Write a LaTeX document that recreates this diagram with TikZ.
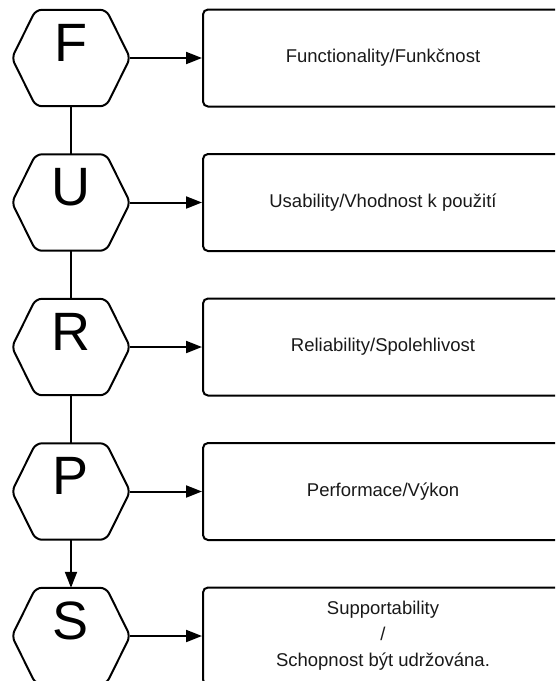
\documentclass[tikz,border=0pt]{standalone}
\usepackage{fontspec}
\setmainfont{Liberation Sans}
\usetikzlibrary{arrows.meta,calc}

% outline of a flattened hexagon around a rectangular node
\newcommand\hexoutline[1]{%
  \draw[hexline] (#1.west) -- ($(#1.north west)+(24,0)$) -- ($(#1.north east)+(-24,0)$)
    -- (#1.east) -- ($(#1.south east)+(-24,0)$) -- ($(#1.south west)+(24,0)$) -- cycle;}

\begin{document}
\begin{tikzpicture}[x=1pt,y=-1pt,
  hexnode/.style={rectangle, minimum width=118pt, minimum height=96pt, inner sep=0pt,
    text height=40pt, text depth=34pt, font=\fontsize{54}{54}\selectfont},
  hexline/.style={line width=2pt, rounded corners=6pt, line join=round},
  descbox/.style={draw, line width=2pt, rounded corners=5pt, minimum width=360pt,
    minimum height=97pt, align=center, inner sep=0pt,
    font=\fontsize{18.5}{26}\selectfont, text=black!90},
  link/.style={line width=2pt},
  flow/.style={link, -{Triangle[length=16pt,width=12pt]}}
]
\useasboundingbox (0,0) rectangle (555,681);
\clip (0,0) rectangle (555,681);

% letter hexagons
\node[hexnode] (F) at (71,58)  {F};
\node[hexnode] (U) at (71,202.5) {U};
\node[hexnode] (R) at (71,347) {R};
\node[hexnode] (P) at (71,491.5) {P};
\node[hexnode] (S) at (71,636) {S};
\foreach \h in {F,U,R,P,S} { \hexoutline{\h} }

% description boxes
\node[descbox] (Fd) at (383,58)  {Functionality/Funkčnost};
\node[descbox] (Ud) at (383,202.5) {Usability/Vhodnost k použití};
\node[descbox] (Rd) at (383,347) {Reliability/Spolehlivost};
\node[descbox] (Pd) at (383,491.5) {Performace/Výkon};
\node[descbox] (Sd) at (383,636) {Supportability\\/\\Schopnost být udržována.};

% chain between the letters
\draw[link] (F.south) -- (U.north);
\draw[link] (U.south) -- (R.north);
\draw[link] (R.south) -- (P.north);
\draw[flow] (P.south) -- (S.north);

% letters to their descriptions
\draw[flow] (F.east) -- (Fd.west);
\draw[flow] (U.east) -- (Ud.west);
\draw[flow] (R.east) -- (Rd.west);
\draw[flow] (P.east) -- (Pd.west);
\draw[flow] (S.east) -- (Sd.west);
\end{tikzpicture}
\end{document}
